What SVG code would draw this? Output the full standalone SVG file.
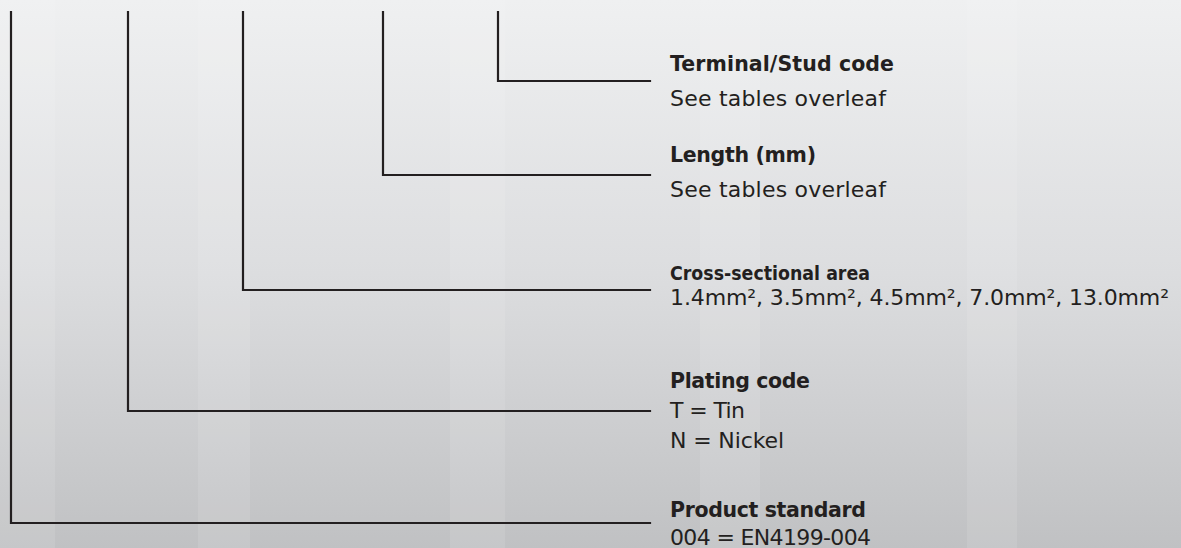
<svg xmlns="http://www.w3.org/2000/svg" width="1181" height="548" viewBox="0 0 1181 548">
<defs>
<linearGradient id="bg" x1="0" y1="0" x2="0" y2="1">
<stop offset="0" stop-color="#eff0f1"/>
<stop offset="0.5" stop-color="#dcdddf"/>
<stop offset="1" stop-color="#c0c1c3"/>
</linearGradient>
<style>
.ln{fill:none;stroke:#231f20;stroke-width:2.2;stroke-linejoin:miter;stroke-linecap:square}
.h{font-family:"DejaVu Sans","Liberation Sans",sans-serif;font-weight:bold;font-size:20.5px;fill:#231f20}
.t{font-family:"DejaVu Sans","Liberation Sans",sans-serif;font-size:22px;fill:#231f20}
.band{fill:#ffffff;opacity:0.1}
</style>
</defs>
<rect x="0" y="0" width="1181" height="548" fill="url(#bg)"/>
<rect class="band" x="0" y="0" width="55" height="548"/>
<rect class="band" x="198" y="0" width="52" height="548"/>
<rect class="band" x="450" y="0" width="55" height="548"/>
<rect class="band" x="700" y="0" width="60" height="548"/>
<rect class="band" x="967" y="0" width="50" height="548"/>
<g id="connectors">
<polyline class="ln" points="11,12 11,523 650,523"/>
<polyline class="ln" points="128,12 128,411 650,411"/>
<polyline class="ln" points="243,12 243,290 650,290"/>
<polyline class="ln" points="383,12 383,175 650,175"/>
<polyline class="ln" points="498,12 498,81 650,81"/>
</g>
<g id="terminal">
<text class="h" x="670" y="71" textLength="224">Terminal/Stud code</text>
<text class="t" x="670" y="106" textLength="216">See tables overleaf</text>
</g>
<g id="length">
<text class="h" x="670" y="162" textLength="146">Length (mm)</text>
<text class="t" x="670" y="197" textLength="216">See tables overleaf</text>
</g>
<g id="cross">
<text class="h" x="670" y="280" style="font-size:20px" textLength="200" lengthAdjust="spacingAndGlyphs">Cross-sectional area</text>
<text class="t" x="670" y="305" textLength="499">1.4mm², 3.5mm², 4.5mm², 7.0mm², 13.0mm²</text>
</g>
<g id="plating">
<text class="h" x="670" y="388" textLength="140">Plating code</text>
<text class="t" x="670" y="418" textLength="75">T = Tin</text>
<text class="t" x="670" y="448" textLength="114">N = Nickel</text>
</g>
<g id="product">
<text class="h" x="670" y="517" textLength="196">Product standard</text>
<text class="t" x="670" y="545" textLength="201">004 = EN4199-004</text>
</g>
</svg>
